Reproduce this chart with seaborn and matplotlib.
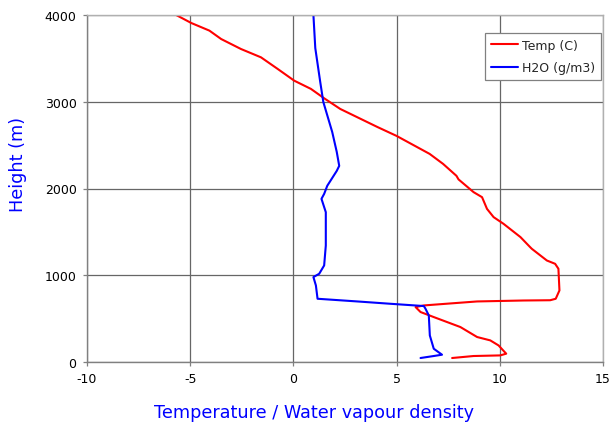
import matplotlib
matplotlib.use("Agg")
import matplotlib.pyplot as plt
import seaborn as sns
import pandas as pd

# Temperature profile (C) vs height (m)
temp_height = [46, 69, 76, 96, 191, 249, 288, 403, 518, 576, 633, 652, 698, 709, 712,
               729, 825, 1075, 1132, 1170, 1305, 1324, 1440, 1593, 1670, 1765, 1900,
               1958, 2105, 2146, 2284, 2399, 2606, 2710, 2917, 3040, 3148, 3243, 3378,
               3512, 3608, 3723, 3820, 3908, 4000]
temp_value = [7.69, 8.73, 10.02, 10.31, 9.94, 9.54, 8.9, 8.09, 6.8, 6.16, 5.92, 6.32,
              8.9, 11.15, 12.44, 12.71, 12.89, 12.84, 12.68, 12.28, 11.55, 11.47, 11.0,
              10.18, 9.70, 9.38, 9.14, 8.73, 8.0, 7.9, 7.25, 6.6, 5.0, 4.06, 2.27, 1.49,
              0.85, 0.04, -0.76, -1.57, -2.54, -3.5, -4.07, -4.95, -5.68]

# Water vapour density (g/m3) vs height (m)
h2o_height = [46, 69, 84, 153, 306, 537, 614, 645, 671, 698, 729, 882, 979, 1017,
              1113, 1343, 1727, 1881, 1938, 2031, 2203, 2261, 2422, 2652, 2997, 3228,
              3619, 4000]
h2o_value = [6.16, 6.8, 7.2, 6.8, 6.61, 6.56, 6.4, 6.32, 4.71, 3.1, 1.17, 1.09, 0.97,
             1.25, 1.49, 1.57, 1.57, 1.36, 1.49, 1.64, 2.1, 2.22, 2.1, 1.88, 1.45, 1.3,
             1.06, 0.97]

series_names = ["Temp (C)", "H2O (g/m3)"]
series_colors = ["#FF0000", "#0000FF"]

x_ticks = [-10, -5, 0, 5, 10, 15]
y_ticks = [0, 1000, 2000, 3000, 4000]

df = pd.concat([
    pd.DataFrame({"value": temp_value, "height": temp_height, "series": series_names[0]}),
    pd.DataFrame({"value": h2o_value, "height": h2o_height, "series": series_names[1]}),
], ignore_index=True)

sns.set_style("white")
plt.rcParams["font.family"] = ["DejaVu Sans"]

fig = plt.figure(figsize=(6.14, 4.31), dpi=100)
ax = fig.add_axes([87 / 614, 1 - 363 / 431, 516 / 614, 347 / 431])

sns.lineplot(data=df, x="value", y="height", hue="series", hue_order=series_names,
             palette=series_colors, sort=False, estimator=None, linewidth=1.5, ax=ax)

ax.set_xlim(-10, 15)
ax.set_ylim(0, 4000)
ax.set_xticks(x_ticks)
ax.set_yticks(y_ticks)
ax.set_xticklabels([str(t) for t in x_ticks])
ax.set_yticklabels([str(t) for t in y_ticks])
ax.grid(True, color="#666666", linewidth=0.9)
ax.set_axisbelow(True)
for side in ["left", "bottom"]:
    ax.spines[side].set_color("#808080")
    ax.spines[side].set_linewidth(1.0)
for side in ["top", "right"]:
    ax.spines[side].set_color("#b0b0b0")
    ax.spines[side].set_linewidth(1.0)
ax.tick_params(axis="both", direction="out", length=3, width=0.9, color="#808080",
               labelsize=9, pad=4.5, labelcolor="black", left=True, bottom=True)

ax.set_xlabel("Temperature / Water vapour density", color="#0000FF", fontsize=12.7)
ax.set_ylabel("Height (m)", color="#0000FF", fontsize=12.7)
ax.xaxis.set_label_coords(0.44, -0.118)
ax.yaxis.set_label_coords(-0.116, 0.572)

leg = ax.legend(loc="upper left", bbox_to_anchor=((485 - 87) / 516, (363 - 34) / 347),
                frameon=True, fancybox=False, fontsize=9, handlelength=2.2,
                borderpad=0.45, labelspacing=0.75, handletextpad=0.3, borderaxespad=0)
leg.get_frame().set_edgecolor("#808080")
leg.get_frame().set_linewidth(0.9)
leg.get_frame().set_facecolor("white")
leg.get_frame().set_alpha(1)
for line in leg.get_lines():
    line.set_linewidth(1.5)

fig.savefig("out.png", dpi=100, facecolor="white")
